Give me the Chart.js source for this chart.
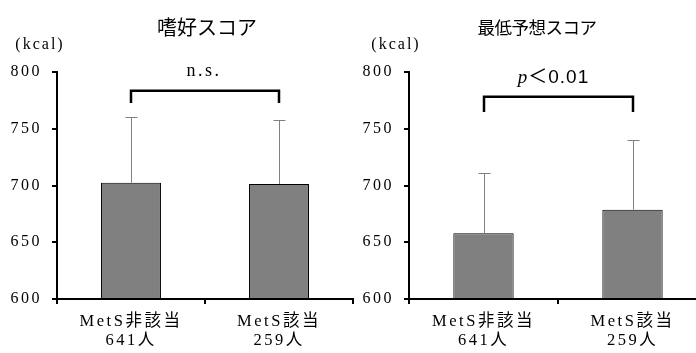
<!DOCTYPE html>
<html>
<head>
<meta charset="utf-8">
<script src="https://cdn.jsdelivr.net/npm/chart.js@4.4.1/dist/chart.umd.min.js"></script>
<style>
  html, body { margin: 0; padding: 0; background: #fff; overflow: hidden; width: 696px; height: 353px; }
  .box { position: absolute; top: 0; height: 353px; }
</style>
</head>
<body>
<div class="box" style="left:0;width:355px"><canvas id="pref"></canvas></div>
<div class="box" style="left:352px;width:357px"><canvas id="low"></canvas></div>
<script>
var categories = [['MetS非該当', '641人'], ['MetS該当', '259人']];
var yTicks = [600, 650, 700, 750, 800];
var prefMeans = [702.5, 701.3];
var prefSD = [58.1, 56.5];
var lowMeans = [657.9, 678.7];
var lowSD = [53.4, 61.4];
var titles = ['嗜好スコア', '最低予想スコア'];
var sigLabels = ['n.s.', 'p＜0.01'];
var unitLabel = '(kcal)';

var serif = '"Liberation Serif", "Noto Sans CJK JP", serif';

// error bars, significance bracket, title and unit label
var extras = {
  id: 'extras',
  beforeDraw: function (chart) {
    chart.ctx.letterSpacing = '2.5px';
  },
  afterDatasetsDraw: function (chart, args, o) {
    var ctx = chart.ctx, y = chart.scales.y;
    var meta = chart.getDatasetMeta(0);
    ctx.save();

    ctx.strokeStyle = '#808080';
    ctx.lineWidth = 1;
    o.sd.forEach(function (sd, i) {
      var bar = meta.data[i];
      var cx = Math.round(bar.x) + 0.5;
      var top = Math.round(y.getPixelForValue(o.means[i] + sd)) + 0.5;
      ctx.beginPath();
      ctx.moveTo(cx, bar.y);
      ctx.lineTo(cx, top);
      ctx.moveTo(cx - 6, top);
      ctx.lineTo(cx + 6, top);
      ctx.stroke();
    });

    var bt = y.getPixelForValue(o.bracketTop), bb = y.getPixelForValue(o.bracketLeg);
    var x0 = Math.round(meta.data[0].x), x1 = Math.round(meta.data[1].x);
    ctx.strokeStyle = '#000';
    ctx.lineWidth = 2.5;
    ctx.beginPath();
    ctx.moveTo(x0, bb);
    ctx.lineTo(x0, bt);
    ctx.lineTo(x1, bt);
    ctx.lineTo(x1, bb);
    ctx.stroke();

    ctx.fillStyle = '#000';
    ctx.textBaseline = 'middle';
    var mid = (x0 + x1) / 2 + o.sigShift, ty = bt - 19;
    if (o.sig.charAt(0) === 'p') {
      ctx.letterSpacing = '1px';
      ctx.font = 'italic 19px "Liberation Serif"';
      var w1 = ctx.measureText('p').width;
      ctx.font = '19px "Liberation Sans", "Noto Sans CJK JP"';
      var rest = o.sig.slice(1);
      var w2 = ctx.measureText(rest).width;
      var sx = mid - (w1 + w2) / 2;
      ctx.textAlign = 'left';
      ctx.font = 'italic 19px "Liberation Serif"';
      ctx.fillText('p', sx, ty);
      ctx.font = '19px "Liberation Sans", "Noto Sans CJK JP"';
      ctx.fillText(rest, sx + w1, ty);
    } else {
      ctx.letterSpacing = '2.5px';
      ctx.textAlign = 'center';
      ctx.font = '18px ' + serif;
      ctx.fillText(o.sig, mid, ty);
    }

    ctx.textAlign = 'center';
    ctx.letterSpacing = o.titleSpacing;
    ctx.font = o.titleSize + 'px "Noto Sans CJK JP"';
    ctx.fillText(o.title, o.titleX, 27);

    ctx.letterSpacing = '2px';
    ctx.font = '16px ' + serif;
    ctx.fillText(unitLabel, o.unitX, 45);
    ctx.restore();
  }
};

function makeChart(id, means, sd, opts) {
  return new Chart(document.getElementById(id), {
    type: 'bar',
    data: {
      labels: categories,
      datasets: [{
        data: means,
        base: 600,
        backgroundColor: '#808080',
        borderColor: '#000',
        borderWidth: 1,
        categoryPercentage: 1,
        barPercentage: 0.405
      }]
    },
    plugins: [extras],
    options: {
      responsive: true,
      maintainAspectRatio: false,
      animation: false,
      layout: { padding: { left: 0, top: 72, right: 2, bottom: 0 } },
      plugins: {
        legend: { display: false },
        tooltip: { enabled: false },
        extras: Object.assign({ means: means, sd: sd }, opts)
      },
      scales: {
        x: {
          grid: {
            display: true,
            drawOnChartArea: false,
            drawTicks: true,
            tickLength: 5,
            lineWidth: 2,
            color: function (c) { return c.index === 2 ? 'rgba(0,0,0,0)' : '#000'; }
          },
          border: { display: true, color: '#000', width: 2 },
          ticks: {
            color: '#000',
            padding: 8,
            font: { family: serif, size: 16.5, lineHeight: 1.16 }
          },
          afterFit: function (s) { s.height = 54; }
        },
        y: {
          min: 600,
          max: 800,
          afterBuildTicks: function (s) {
            s.ticks = yTicks.map(function (v) { return { value: v }; });
          },
          grid: {
            display: true,
            drawOnChartArea: false,
            drawTicks: true,
            tickLength: 5,
            lineWidth: 2,
            color: '#000'
          },
          border: { display: true, color: '#000', width: 2 },
          ticks: {
            color: '#000',
            padding: 10,
            font: { family: serif, size: 16 }
          },
          afterFit: function (s) { s.width = 57; }
        }
      }
    }
  });
}

makeChart('pref', prefMeans, prefSD, {
  title: titles[0], titleX: 207, titleSize: 20, titleSpacing: '0px',
  sig: sigLabels[0], sigShift: -1, bracketTop: 783.5, bracketLeg: 772.7, unitX: 40
});
makeChart('low', lowMeans, lowSD, {
  title: titles[1], titleX: 537 - 352, titleSize: 17.5, titleSpacing: '-0.5px',
  sig: sigLabels[1], sigShift: -5, bracketTop: 778.2, bracketLeg: 764.8, unitX: 44
});
</script>
</body>
</html>
